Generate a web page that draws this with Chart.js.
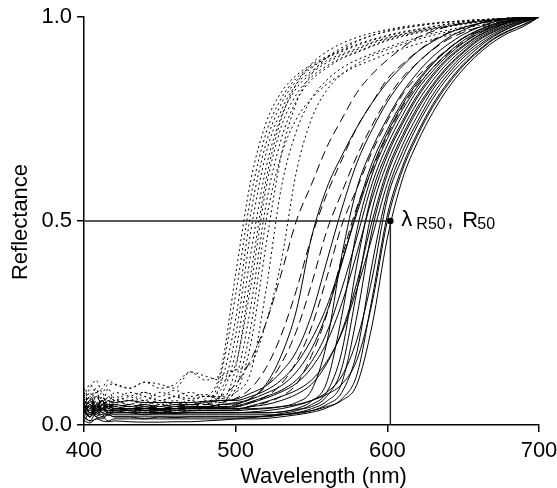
<!DOCTYPE html>
<html><head><meta charset="utf-8">
<script src="https://cdn.jsdelivr.net/npm/chart.js@4.4.1/dist/chart.umd.min.js"></script>
<style>html,body{margin:0;padding:0;background:#fff}canvas{display:block}</style>
</head><body>
<canvas id="c" width="557" height="488"></canvas>
<script>
const wavelengths = [400,404,408,412,416,420,430,440,450,460,470,480,490,500,510,520,530,540,550,560,570,580,590,600,610,620,630,640,650,660,670,680,690,700];
const xTickValues = [400,500,600,700];
const yTickValues = [0,0.5,1];
const yTickLabels = ['0.0','0.5','1.0'];
const xAxisTitle = 'Wavelength (nm)';
const yAxisTitle = 'Reflectance';
const lambdaR50 = 602;
const R50 = 0.5;

// dotted spectra
const dot1 = [.05,.08,.03,.07,.04,.06,.05,.07,.05,.06,.05,.065,.13,.37,.60,.74,.815,.857,.883,.903,.918,.933,.945,.955,.964,.97,.977,.983,.988,.992,.995,.997,.999,1];
const dot2 = [.03,.06,.09,.04,.07,.05,.06,.05,.06,.05,.06,.05,.10,.26,.52,.69,.787,.843,.875,.90,.92,.94,.955,.965,.972,.978,.983,.987,.99,.993,.995,.997,.999,1];
const dot3 = [.07,.04,.08,.05,.09,.06,.08,.07,.06,.07,.08,.07,.085,.22,.475,.665,.77,.835,.867,.893,.909,.923,.938,.949,.958,.966,.973,.979,.984,.989,.993,.996,.998,1];
const dot4 = [.06,.09,.11,.08,.10,.10,.09,.105,.09,.10,.13,.12,.11,.15,.34,.58,.73,.81,.853,.88,.90,.915,.93,.944,.954,.963,.97,.977,.983,.988,.992,.995,.998,1];
const dot5 = [.04,.02,.06,.03,.05,.04,.05,.04,.05,.04,.05,.045,.07,.18,.42,.63,.755,.825,.862,.888,.906,.92,.936,.947,.957,.965,.972,.978,.984,.989,.993,.996,.998,1];
const dot6 = [.08,.05,.03,.06,.04,.07,.06,.08,.07,.085,.07,.075,.06,.14,.37,.60,.75,.835,.885,.915,.935,.95,.961,.969,.976,.981,.985,.988,.991,.993,.995,.997,.999,1];
const dot7 = [.05,.07,.04,.02,.05,.03,.04,.03,.04,.035,.04,.045,.05,.11,.29,.54,.70,.795,.846,.875,.898,.913,.928,.942,.952,.961,.969,.976,.982,.987,.991,.995,.998,1];
const dot8 = [.06,.03,.05,.08,.04,.06,.05,.06,.045,.055,.05,.06,.055,.09,.24,.50,.66,.75,.80,.835,.86,.88,.895,.91,.922,.934,.945,.955,.965,.974,.982,.99,.995,1];
const dot9 = [.09,.06,.04,.07,.05,.08,.07,.06,.08,.07,.06,.07,.065,.08,.20,.44,.66,.79,.86,.90,.925,.942,.955,.965,.973,.979,.984,.988,.991,.993,.995,.997,.999,1];
const dot10 = [.04,.06,.08,.05,.07,.06,.07,.08,.06,.07,.065,.07,.07,.08,.13,.33,.58,.72,.80,.845,.875,.895,.91,.925,.938,.95,.96,.968,.976,.983,.989,.994,.997,1];
const dot11 = [.03,.05,.02,.04,.06,.03,.04,.035,.03,.04,.035,.045,.12,.32,.56,.715,.80,.85,.878,.90,.915,.93,.943,.953,.962,.969,.976,.982,.987,.991,.994,.997,.999,1];
const dot12 = [.07,.10,.08,.09,.11,.10,.09,.105,.10,.09,.13,.11,.12,.135,.15,.25,.40,.62,.75,.82,.86,.885,.905,.92,.933,.945,.955,.964,.972,.979,.986,.992,.996,1];

// dashed spectra
const dash1 = [.04,.06,.03,.05,.04,.05,.045,.05,.04,.045,.05,.05,.07,.10,.16,.25,.37,.50,.59,.68,.75,.815,.86,.895,.925,.95,.965,.977,.985,.99,.994,.997,.999,1];
const dash2 = [.05,.03,.06,.04,.05,.045,.05,.04,.05,.045,.05,.05,.055,.065,.09,.14,.22,.33,.46,.565,.65,.73,.79,.848,.885,.916,.943,.961,.973,.983,.99,.995,.998,1];
const dash3 = [.03,.05,.04,.06,.03,.04,.035,.04,.035,.04,.04,.045,.045,.05,.065,.095,.15,.23,.345,.475,.57,.66,.735,.80,.852,.888,.92,.945,.962,.975,.985,.992,.997,1];
const dash4 = [.04,.02,.05,.03,.04,.035,.04,.035,.03,.035,.04,.04,.04,.045,.055,.07,.10,.155,.24,.36,.49,.58,.67,.745,.81,.855,.89,.922,.948,.964,.976,.986,.994,1];
const dash5 = [.05,.07,.04,.06,.05,.05,.045,.05,.04,.045,.04,.045,.04,.04,.045,.055,.07,.10,.17,.27,.41,.535,.625,.71,.78,.835,.875,.91,.938,.96,.976,.988,.995,1];

// solid spectra
const sol1 = [.03,.05,.02,.04,.05,.04,.04,.035,.04,.04,.045,.045,.05,.055,.065,.10,.17,.28,.46,.58,.66,.73,.79,.84,.88,.915,.94,.96,.974,.984,.991,.995,.998,1];
const sol2 = [.04,.06,.035,.05,.045,.05,.045,.05,.045,.05,.05,.055,.06,.063,.078,.096,.13,.18,.27,.40,.53,.643,.724,.792,.845,.888,.921,.949,.968,.983,.994,.997,.999,1];
const sol3 = [.05,.03,.04,.06,.03,.04,.035,.03,.035,.03,.035,.035,.035,.035,.038,.04,.045,.055,.085,.20,.416,.581,.678,.752,.815,.864,.903,.933,.957,.974,.988,.995,.998,1];
const sol4 = [.03,.045,.025,.04,.035,.04,.04,.045,.04,.045,.045,.045,.05,.052,.063,.078,.096,.13,.186,.274,.396,.528,.643,.724,.792,.845,.888,.921,.949,.968,.983,.992,.997,1];
const sol5 = [.02,.04,.03,.05,.025,.03,.03,.025,.03,.028,.03,.03,.03,.03,.03,.03,.032,.04,.058,.104,.268,.479,.614,.702,.773,.83,.876,.912,.942,.963,.979,.991,.997,1];
const sol6 = [.04,.02,.05,.035,.045,.04,.04,.04,.04,.04,.042,.043,.045,.047,.057,.07,.085,.11,.155,.226,.334,.461,.592,.686,.759,.822,.868,.906,.936,.959,.976,.989,.997,1];
const sol7 = [.01,.03,.02,.015,.025,.02,.02,.015,.02,.018,.02,.02,.02,.02,.02,.022,.028,.035,.05,.08,.18,.395,.57,.67,.745,.81,.86,.90,.93,.955,.973,.987,.996,1];
const sol8 = [.05,.03,.045,.06,.04,.045,.04,.045,.04,.04,.042,.042,.043,.044,.054,.066,.081,.102,.14,.202,.298,.422,.556,.661,.738,.804,.855,.896,.927,.953,.971,.986,.995,1];
const sol9 = [.035,.02,.04,.03,.025,.035,.03,.03,.028,.03,.03,.03,.03,.03,.03,.03,.032,.038,.045,.07,.14,.33,.528,.643,.724,.792,.845,.888,.921,.949,.968,.983,.994,1];
const sol10 = [.045,.03,.05,.04,.035,.04,.04,.04,.038,.04,.04,.04,.04,.04,.045,.05,.06,.075,.10,.15,.23,.35,.50,.625,.71,.78,.835,.88,.915,.945,.965,.98,.992,1];
const sol11 = [.02,.01,.03,.02,.025,.02,.02,.02,.02,.02,.02,.02,.02,.02,.02,.02,.025,.03,.04,.058,.104,.268,.479,.614,.702,.773,.83,.876,.912,.942,.963,.979,.991,1];
const sol12 = [.03,.05,.035,.04,.03,.035,.035,.035,.035,.035,.035,.036,.036,.037,.047,.057,.07,.085,.11,.155,.226,.334,.461,.592,.686,.759,.822,.868,.906,.936,.959,.976,.989,1];
const sol13 = [.03,.02,.035,.025,.03,.025,.025,.025,.025,.025,.025,.025,.025,.025,.025,.025,.025,.028,.035,.05,.08,.18,.395,.57,.67,.745,.81,.86,.90,.93,.955,.973,.987,1];
const sol14 = [.035,.025,.03,.04,.03,.03,.03,.03,.03,.03,.03,.03,.03,.03,.032,.035,.04,.048,.06,.08,.12,.21,.36,.555,.655,.735,.80,.852,.892,.925,.952,.972,.988,1];
const sol15 = [.02,.01,.015,.02,.01,.015,.015,.015,.015,.015,.015,.015,.015,.015,.015,.016,.02,.025,.031,.042,.064,.124,.311,.514,.634,.717,.786,.84,.884,.918,.947,.967,.981,1];
const sol16 = [.01,.005,.015,.01,.008,.01,.008,.007,.007,.008,.008,.01,.012,.015,.018,.022,.025,.03,.035,.045,.06,.10,.245,.458,.603,.694,.766,.825,.872,.909,.939,.961,.977,1];
const sol17 = [.05,.035,.045,.04,.045,.04,.04,.04,.04,.04,.04,.04,.04,.04,.04,.042,.045,.05,.06,.075,.10,.16,.30,.50,.625,.71,.78,.835,.88,.915,.945,.965,.982,1];
const sol18 = [.06,.04,.07,.05,.06,.055,.06,.055,.055,.055,.055,.058,.06,.06,.07,.085,.11,.15,.21,.29,.40,.52,.63,.715,.785,.84,.885,.92,.948,.967,.981,.991,.997,1];

const dottedSeries = [dot1,dot2,dot3,dot4,dot5,dot6,dot7,dot8,dot9,dot10,dot11,dot12];
const dashedSeries = [dash1,dash2,dash3,dash4,dash5];
const solidSeries = [sol1,sol2,sol3,sol4,sol5,sol6,sol7,sol8,sol9,sol10,sol11,sol12,sol13,sol14,sol15,sol16,sol17,sol18];

const FONT = '"Liberation Sans", Arial, Helvetica, sans-serif';
const toPts = arr => wavelengths.map((w, i) => ({x: w, y: arr[i]}));
const mk = (arr, dash) => ({
  data: toPts(arr), borderColor: '#000', borderWidth: 1, borderDash: dash,
  pointRadius: 0, fill: false, cubicInterpolationMode: 'monotone'
});

const datasets = [
  {
    data: [{x: 400, y: R50}, {x: lambdaR50, y: R50}, {x: lambdaR50, y: 0}],
    borderColor: '#222', borderWidth: 1.4, fill: false, tension: 0,
    pointRadius: [0, 3.2, 0], pointBackgroundColor: '#000', pointBorderWidth: 0
  },
  ...solidSeries.map(a => mk(a, [])),
  ...dashedSeries.map(a => mk(a, [9, 5])),
  ...dottedSeries.map(a => mk(a, [2, 3]))
];

const textPlugin = {
  id: 'texts',
  afterDraw(chart) {
    const {ctx, chartArea, scales: {x, y}} = chart;
    ctx.save();
    ctx.fillStyle = '#000';
    ctx.font = '22px ' + FONT;
    ctx.textBaseline = 'alphabetic';
    ctx.textAlign = 'center';
    ctx.fillText(xAxisTitle, (chartArea.left + chartArea.right) / 2 + 12, 483);
    ctx.save();
    ctx.translate(27, (chartArea.top + chartArea.bottom) / 2 + 1);
    ctx.rotate(-Math.PI / 2);
    ctx.fillText(yAxisTitle, 0, 0);
    ctx.restore();
    const px = x.getPixelForValue(lambdaR50), py = y.getPixelForValue(R50);
    ctx.textAlign = 'left';
    ctx.font = '22px ' + FONT;
    ctx.fillText('\u03BB', px + 11, py + 5);
    ctx.font = '16px ' + FONT;
    ctx.fillText('R50', px + 26, py + 8);
    ctx.font = '22px ' + FONT;
    ctx.fillText(',', px + 57, py + 5);
    ctx.fillText('R', px + 72, py + 5.5);
    ctx.font = '16px ' + FONT;
    ctx.fillText('50', px + 87, py + 8);
    ctx.restore();
  }
};

const axisCommon = {
  type: 'linear',
  grid: {display: true, drawOnChartArea: false, drawTicks: true, tickLength: 7, color: '#000', lineWidth: 1.5},
  border: {display: true, color: '#000', width: 1.5},
};

new Chart(document.getElementById('c'), {
  type: 'line',
  data: {datasets},
  plugins: [textPlugin],
  options: {
    responsive: false, animation: false, devicePixelRatio: 1,
    layout: {padding: {top: 17, right: 18, left: 0, bottom: 0}},
    plugins: {legend: {display: false}, tooltip: {enabled: false}},
    scales: {
      x: {
        ...axisCommon, min: 400, max: 700,
        afterBuildTicks: s => { s.ticks = xTickValues.map(v => ({value: v})); },
        afterFit: s => { s.height = 63; s.paddingLeft = 0; s.paddingRight = 0; },
        ticks: {font: {family: FONT, size: 22}, color: '#000', padding: 6, maxRotation: 0,
          callback: v => String(v)}
      },
      y: {
        ...axisCommon, min: 0, max: 1,
        afterBuildTicks: s => { s.ticks = yTickValues.map(v => ({value: v})); },
        afterFit: s => { s.width = 84; s.paddingTop = 0; s.paddingBottom = 0; },
        ticks: {font: {family: FONT, size: 22}, color: '#000', padding: 5,
          callback: v => yTickLabels[yTickValues.indexOf(v)]}
      }
    }
  }
});
</script>
</body></html>
